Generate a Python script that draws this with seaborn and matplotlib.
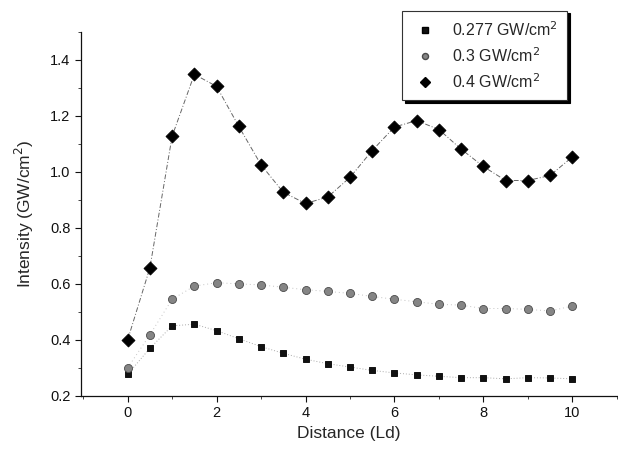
import matplotlib
matplotlib.use("Agg")
import matplotlib.pyplot as plt
import seaborn as sns
import pandas as pd
from matplotlib.lines import Line2D
from matplotlib.ticker import MultipleLocator

distance = [0, 0.5, 1, 1.5, 2, 2.5, 3, 3.5, 4, 4.5, 5, 5.5, 6, 6.5, 7, 7.5, 8, 8.5, 9, 9.5, 10]
i_0277 = [0.277, 0.37, 0.45, 0.456, 0.433, 0.404, 0.376, 0.352, 0.331, 0.315, 0.303,
          0.291, 0.282, 0.275, 0.270, 0.265, 0.265, 0.261, 0.265, 0.264, 0.261]
i_03 = [0.30, 0.418, 0.545, 0.592, 0.604, 0.600, 0.596, 0.588, 0.579, 0.573, 0.566,
        0.555, 0.545, 0.536, 0.527, 0.524, 0.512, 0.512, 0.509, 0.503, 0.521]
i_04 = [0.40, 0.657, 1.127, 1.348, 1.305, 1.162, 1.025, 0.927, 0.887, 0.910, 0.980,
        1.076, 1.160, 1.183, 1.151, 1.081, 1.019, 0.969, 0.969, 0.987, 1.053]
labels = ["0.277 GW/cm$^2$", "0.3 GW/cm$^2$", "0.4 GW/cm$^2$"]

sns.set_theme(style="ticks")
plt.rcParams['font.family'] = ['Liberation Sans', 'DejaVu Sans']

fig = plt.figure(figsize=(6.18, 4.54), dpi=100)
ax = fig.add_axes([0.131, 0.128, 0.867, 0.802])

series = [
    (i_0277, "s", "#111111", 5.0, (0, (1, 2)), "#aaaaaa"),
    (i_03, "o", "#858585", 5.8, (0, (1, 3)), "#c4c4c4"),
    (i_04, "D", "#000000", 6.6, (0, (5, 2, 1, 2)), "#666666"),
]
handles = []
for (vals, mk, col, ms, ls, lc), lab in zip(series, labels):
    df = pd.DataFrame({"x": distance, "y": vals})
    sns.lineplot(data=df, x="x", y="y", ax=ax, color=lc, linewidth=0.7,
                 linestyle=ls, sort=False, legend=False)
    sns.scatterplot(data=df, x="x", y="y", ax=ax, marker=mk, color=col,
                    s=ms ** 2, edgecolor="#000000" if mk != "o" else "#4a4a4a",
                    linewidth=0.6, legend=False, zorder=3)
    handles.append(Line2D([], [], linestyle="none", marker=mk, color=col,
                          markeredgecolor="#000000" if mk != "o" else "#4a4a4a",
                          markersize=ms * 0.75, label=lab))

ax.set_xlim(-1.05, 11)
ax.set_ylim(0.2, 1.5)
ax.xaxis.set_major_locator(MultipleLocator(2))
ax.xaxis.set_minor_locator(MultipleLocator(1))
ax.yaxis.set_minor_locator(MultipleLocator(0.1))
ax.set_yticks([0.2, 0.4, 0.6, 0.8, 1.0, 1.2, 1.4])
ax.yaxis.set_major_formatter(matplotlib.ticker.FormatStrFormatter("%.1f"))
ax.tick_params(axis="both", which="major", direction="out", length=4, width=0.8,
               labelsize=10.5, colors="#111111")
ax.tick_params(axis="both", which="minor", direction="out", length=2, width=0.6)
for s in ["top", "right"]:
    ax.spines[s].set_visible(False)
for s in ["left", "bottom"]:
    ax.spines[s].set_linewidth(0.9)
    ax.spines[s].set_color("#111111")

ax.set_xlabel("Distance (Ld)", fontsize=12.5, labelpad=4)
ax.set_ylabel("Intensity (GW/cm$^2$)", fontsize=12.5, labelpad=10)

leg = ax.legend(handles=handles, loc="upper left", bbox_to_anchor=(0.585, 1.08),
                frameon=True, fontsize=11.5, handletextpad=0.9, borderpad=0.6,
                labelspacing=0.45, handlelength=1.6, fancybox=False,
                shadow={"color": "black", "alpha": 1.0})
leg.get_frame().set_edgecolor("#333333")
leg.get_frame().set_linewidth(0.8)

fig.savefig("out.png", dpi=100)
